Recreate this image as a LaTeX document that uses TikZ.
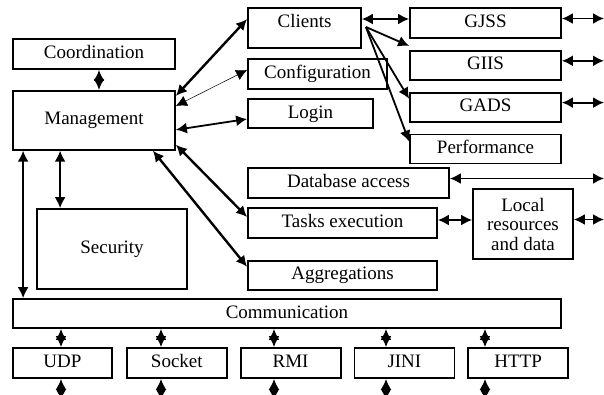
\documentclass[tikz,border=0pt]{standalone}
\usepackage{fontspec}
\setmainfont{Liberation Serif}
\usetikzlibrary{arrows.meta,calc,positioning}

\begin{document}
\begin{tikzpicture}
        [
            x=1pt,
            y=-1pt,
            block/.style = {
                rectangle,
                draw,
                line width=1.8pt,
                inner sep=0pt,
                font=\fontsize{19}{19.5}\selectfont,
                text height=13pt,
                text depth=4pt
            },
            line/.style = {
                draw,
                line width=1.8pt,
                {Latex[length=11pt,width=11pt]}-{Latex[length=11pt,width=11pt]}
            },
            bigline/.style = {
                line,
                line width=2.4pt
            },
            thinline/.style = {
                line,
                line width=0.5pt
            },
            fanline/.style = {
                draw,
                line width=1.8pt,
                -{Latex[length=11pt,width=11pt]}
            }
        ]

        \useasboundingbox (0,0) rectangle (604,394);
        \coordinate (rim) at (604,0);
        \coordinate (floor) at (0,400);

        % left column
        \node[block,minimum width=162pt,minimum height=30pt] (coord) at (94,54) {Coordination};
        \node[block,minimum width=162pt,minimum height=59pt,below=20pt of coord] (mgmt) {Management};
        \node[block,minimum width=150pt,minimum height=80pt] (sec) at (112,249) {Security};

        % middle column
        \node[block,minimum width=113pt,minimum height=40pt,text height=19pt,text depth=21pt] (clients) at (304.5,28) {Clients};
        \node[block,minimum width=139pt,minimum height=30pt] (config) at (317.5,74) {Configuration};
        \node[block,minimum width=125pt,minimum height=29pt] (login) at (310.5,113.5) {Login};
        \node[block,minimum width=201pt,minimum height=30pt] (db) at (348.5,183) {Database access};
        \node[block,minimum width=189pt,minimum height=30pt] (tasks) at (342.5,223) {Tasks execution};
        \node[block,minimum width=189pt,minimum height=29pt,below=21pt of tasks] (aggr) {Aggregations};

        % right column
        \node[block,minimum width=151pt,minimum height=30pt] (gjss) at (485.5,23) {GJSS};
        \node[block,minimum width=151pt,minimum height=29pt,below=11pt of gjss] (giis) {GIIS};
        \node[block,minimum width=151pt,minimum height=29pt,below=11pt of giis] (gads) {GADS};
        \node[block,minimum width=151pt,minimum height=29pt,below=11pt of gads] (perf) {Performance};
        \node[block,minimum width=100pt,minimum height=70pt,text height={},text depth={},align=center] (local) at (523,224) {Local\\resources\\and data};

        % bottom rows
        \node[block,minimum width=548pt,minimum height=29pt] (comm) at (287,313.5) {Communication};
        \node[block,minimum width=99pt,minimum height=30pt] (udp) at (62.5,363) {UDP};
        \node[block,minimum width=100pt,minimum height=30pt,right=13pt of udp] (socket) {Socket};
        \node[block,minimum width=100pt,minimum height=30pt,right=12pt of socket] (rmi) {RMI};
        \node[block,minimum width=100pt,minimum height=30pt,right=12pt of rmi] (jini) {JINI};
        \node[block,minimum width=100pt,minimum height=30pt,right=12pt of jini] (http) {HTTP};

        % management links
        \path[line] ([xshift=5pt]coord.south) -- ([xshift=5pt]mgmt.north);
        \path[bigline] ([yshift=-6pt]mgmt.north east) -- ([yshift=-12pt]clients.north west);
        \path[thinline] ([yshift=-16pt]mgmt.north east) -- ([yshift=4pt]config.west);
        \path[line] ([yshift=-9.5pt]mgmt.east) -- ([yshift=-5.5pt]login.west);
        \path[bigline] ([yshift=6pt]mgmt.south east) -- ([yshift=6pt]tasks.west);
        \path[bigline] ([xshift=-23pt]mgmt.south east) -- ([yshift=8.5pt]aggr.west);
        \path[line] ([xshift=48pt]mgmt.south west) -- ([xshift=24pt]sec.north west);
        \path[line] ([xshift=11pt]mgmt.south west) -- ([xshift=11pt]comm.north west);

        % clients fan
        \coordinate (hub) at ([xshift=4pt,yshift=1pt]clients.east);
        \path[line] ([yshift=9pt]clients.east) -- ([yshift=4pt]gjss.west);
        \path[fanline] (hub) -- ([yshift=4pt]giis.north west);
        \path[fanline] (hub) -- ([yshift=-7pt]gads.north west);
        \path[fanline] (hub) -- ([yshift=-8pt]perf.north west);

        % links to the right edge
        \foreach \n in {gjss,giis,gads,db,local}
            \path[line] ([yshift=4.5pt]\n.east) coordinate (\n r) -- (\n r -| rim);
        \path[line] ([yshift=3pt]tasks.east) -- ([yshift=4pt]local.west);

        % protocols
        \foreach \n/\x in {udp/61,socket/161,rmi/274,jini/386,http/485}
        {
            \path[line] (\x,0 |- comm.south) -- (\x,0 |- \n.north);
            \path[line] (\x,0 |- \n.south) -- (\x,0 |- floor);
        }
    \end{tikzpicture}
\end{document}
